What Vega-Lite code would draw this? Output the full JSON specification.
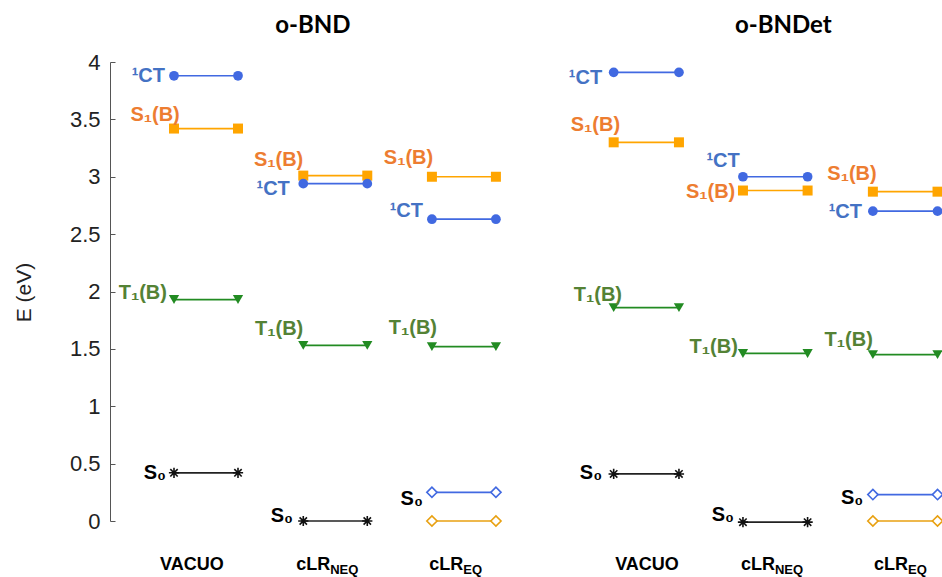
{
  "$schema": "https://vega.github.io/schema/vega-lite/v6.json",
  "width": 832,
  "height": 459,
  "autosize": "none",
  "padding": {"left": 110, "top": 62, "right": 0, "bottom": 56},
  "background": "white",
  "config": {"view": {"stroke": null}},
  "datasets": {
    "levels": [
      {"panel": "o-BND", "env": "VACUO", "series": "CT", "E": 3.88, "x0": 1.0, "x1": 2.0},
      {"panel": "o-BND", "env": "VACUO", "series": "S1", "E": 3.42, "x0": 1.0, "x1": 2.0},
      {"panel": "o-BND", "env": "VACUO", "series": "T1", "E": 1.93, "x0": 1.0, "x1": 2.0},
      {"panel": "o-BND", "env": "VACUO", "series": "S0", "E": 0.42, "x0": 1.0, "x1": 2.0},
      {"panel": "o-BND", "env": "cLR_NEQ", "series": "S1", "E": 3.01, "x0": 3.02, "x1": 4.02},
      {"panel": "o-BND", "env": "cLR_NEQ", "series": "CT", "E": 2.94, "x0": 3.02, "x1": 4.02},
      {"panel": "o-BND", "env": "cLR_NEQ", "series": "T1", "E": 1.53, "x0": 3.02, "x1": 4.02},
      {"panel": "o-BND", "env": "cLR_NEQ", "series": "S0", "E": 0.0, "x0": 3.02, "x1": 4.02},
      {"panel": "o-BND", "env": "cLR_EQ", "series": "S1", "E": 3.0, "x0": 5.03, "x1": 6.03},
      {"panel": "o-BND", "env": "cLR_EQ", "series": "CT", "E": 2.63, "x0": 5.03, "x1": 6.03},
      {"panel": "o-BND", "env": "cLR_EQ", "series": "T1", "E": 1.52, "x0": 5.03, "x1": 6.03},
      {"panel": "o-BND", "env": "cLR_EQ", "series": "S0b", "E": 0.25, "x0": 5.03, "x1": 6.03},
      {"panel": "o-BND", "env": "cLR_EQ", "series": "S0o", "E": 0.0, "x0": 5.03, "x1": 6.03},
      {"panel": "o-BNDet", "env": "VACUO", "series": "CT", "E": 3.91, "x0": 7.87, "x1": 8.89},
      {"panel": "o-BNDet", "env": "VACUO", "series": "S1", "E": 3.3, "x0": 7.87, "x1": 8.89},
      {"panel": "o-BNDet", "env": "VACUO", "series": "T1", "E": 1.86, "x0": 7.87, "x1": 8.89},
      {"panel": "o-BNDet", "env": "VACUO", "series": "S0", "E": 0.41, "x0": 7.87, "x1": 8.89},
      {"panel": "o-BNDet", "env": "cLR_NEQ", "series": "CT", "E": 3.0, "x0": 9.89, "x1": 10.9},
      {"panel": "o-BNDet", "env": "cLR_NEQ", "series": "S1", "E": 2.88, "x0": 9.89, "x1": 10.9},
      {"panel": "o-BNDet", "env": "cLR_NEQ", "series": "T1", "E": 1.46, "x0": 9.89, "x1": 10.9},
      {"panel": "o-BNDet", "env": "cLR_NEQ", "series": "S0", "E": -0.01, "x0": 9.89, "x1": 10.9},
      {"panel": "o-BNDet", "env": "cLR_EQ", "series": "S1", "E": 2.87, "x0": 11.92, "x1": 12.93},
      {"panel": "o-BNDet", "env": "cLR_EQ", "series": "CT", "E": 2.7, "x0": 11.92, "x1": 12.93},
      {"panel": "o-BNDet", "env": "cLR_EQ", "series": "T1", "E": 1.45, "x0": 11.92, "x1": 12.93},
      {"panel": "o-BNDet", "env": "cLR_EQ", "series": "S0b", "E": 0.23, "x0": 11.92, "x1": 12.93},
      {"panel": "o-BNDet", "env": "cLR_EQ", "series": "S0o", "E": 0.0, "x0": 11.92, "x1": 12.93}
    ],
    "labels": [
      {"text": "¹CT", "kind": "CT", "x": 0.86, "y": 3.88},
      {"text": "S₁(B)", "kind": "S1", "x": 1.09, "y": 3.54},
      {"text": "T₁(B)", "kind": "T1", "x": 0.89, "y": 1.99},
      {"text": "S₀", "kind": "S0", "x": 0.875, "y": 0.42},
      {"text": "S₁(B)", "kind": "S1", "x": 3.02, "y": 3.15},
      {"text": "¹CT", "kind": "CT", "x": 2.81, "y": 2.89},
      {"text": "T₁(B)", "kind": "T1", "x": 3.02, "y": 1.67},
      {"text": "S₀", "kind": "S0", "x": 2.86, "y": 0.04},
      {"text": "S₁(B)", "kind": "S1", "x": 5.05, "y": 3.16},
      {"text": "¹CT", "kind": "CT", "x": 4.89, "y": 2.7},
      {"text": "T₁(B)", "kind": "T1", "x": 5.11, "y": 1.68},
      {"text": "S₀", "kind": "S0", "x": 4.89, "y": 0.19},
      {"text": "¹CT", "kind": "CT", "x": 7.69, "y": 3.86},
      {"text": "S₁(B)", "kind": "S1", "x": 7.97, "y": 3.45},
      {"text": "T₁(B)", "kind": "T1", "x": 8.0, "y": 1.97},
      {"text": "S₀", "kind": "S0", "x": 7.69, "y": 0.42},
      {"text": "¹CT", "kind": "CT", "x": 9.84, "y": 3.14},
      {"text": "S₁(B)", "kind": "S1", "x": 9.77, "y": 2.87},
      {"text": "T₁(B)", "kind": "T1", "x": 9.81, "y": 1.52},
      {"text": "S₀", "kind": "S0", "x": 9.75, "y": 0.05},
      {"text": "S₁(B)", "kind": "S1", "x": 11.98, "y": 3.02},
      {"text": "¹CT", "kind": "CT", "x": 11.75, "y": 2.69},
      {"text": "T₁(B)", "kind": "T1", "x": 11.92, "y": 1.58},
      {"text": "S₀", "kind": "S0", "x": 11.77, "y": 0.2}
    ],
    "categories": [
      {"text": "VACUO", "role": "center", "x": 1.28, "y": -0.38},
      {"text": "cLR", "role": "main", "x": 3.44, "y": -0.38},
      {"text": "NEQ", "role": "sub", "x": 3.44, "y": -0.38},
      {"text": "cLR", "role": "main", "x": 5.52, "y": -0.38},
      {"text": "EQ", "role": "sub", "x": 5.52, "y": -0.38},
      {"text": "VACUO", "role": "center", "x": 8.39, "y": -0.38},
      {"text": "cLR", "role": "main", "x": 10.39, "y": -0.38},
      {"text": "NEQ", "role": "sub", "x": 10.39, "y": -0.38},
      {"text": "cLR", "role": "main", "x": 12.47, "y": -0.38},
      {"text": "EQ", "role": "sub", "x": 12.47, "y": -0.38}
    ],
    "titles": [
      {"text": "o-BND", "x": 3.17, "y": 4.31},
      {"text": "o-BNDet", "x": 10.52, "y": 4.31}
    ]
  },
  "layer": [
    {
      "data": {"name": "levels"},
      "mark": {"type": "rule", "strokeWidth": 1.7},
      "encoding": {
        "x": {"field": "x0", "type": "quantitative", "scale": {"domain": [0, 13], "nice": false, "zero": false}, "axis": null},
        "x2": {"field": "x1"},
        "y": {
          "field": "E", "type": "quantitative",
          "scale": {"domain": [0, 4], "nice": false, "zero": false},
          "axis": {
            "title": "E (eV)",
            "values": [0, 0.25, 0.5, 0.75, 1, 1.25, 1.5, 1.75, 2, 2.25, 2.5, 2.75, 3, 3.25, 3.5, 3.75, 4],
            "format": "~g",
            "labelExpr": "datum.value % 0.5 === 0 ? datum.label : ''",
            "grid": false,
            "domainColor": "#555555",
            "tickColor": "#555555",
            "tickSize": -5,
            "labelPadding": 15,
            "labelFont": "Liberation Sans",
            "labelFontSize": 22,
            "labelColor": "#222222",
            "titleFont": "Liberation Sans",
            "titleFontSize": 21,
            "titleFontWeight": "normal",
            "titleColor": "#222222",
            "titleX": -86,
            "titleY": 230,
            "titleAngle": -90,
            "titleAlign": "center",
            "titleBaseline": "middle"
          }
        },
        "color": {
          "field": "series", "type": "nominal", "legend": null,
          "scale": {"domain": ["CT", "S1", "T1", "S0", "S0b", "S0o"], "range": ["#4169E1", "#FFA500", "#228B22", "#222222", "#4169E1", "#E8A010"]}
        }
      }
    },
    {
      "data": {"name": "levels"},
      "transform": [
        {"filter": "datum.series === 'CT' || datum.series === 'S1' || datum.series === 'T1'"},
        {"fold": ["x0", "x1"], "as": ["end", "xe"]}
      ],
      "mark": {"type": "point", "filled": true, "opacity": 1},
      "encoding": {
        "x": {"field": "xe", "type": "quantitative"},
        "y": {"field": "E", "type": "quantitative"},
        "shape": {
          "field": "series", "type": "nominal", "legend": null,
          "scale": {"domain": ["CT", "S1", "T1"], "range": ["circle", "square", "triangle-down"]}
        },
        "size": {
          "field": "series", "type": "nominal", "legend": null,
          "scale": {"domain": ["CT", "S1", "T1"], "range": [95, 105, 145]}
        },
        "color": {"field": "series", "type": "nominal", "legend": null}
      }
    },
    {
      "data": {"name": "levels"},
      "transform": [
        {"filter": "datum.series === 'S0' || datum.series === 'S0b' || datum.series === 'S0o'"},
        {"fold": ["x0", "x1"], "as": ["end", "xe"]}
      ],
      "mark": {"type": "point", "filled": false, "fill": "white", "fillOpacity": 1, "opacity": 1, "strokeWidth": 1.6, "size": 105},
      "encoding": {
        "x": {"field": "xe", "type": "quantitative"},
        "y": {"field": "E", "type": "quantitative"},
        "shape": {
          "field": "series", "type": "nominal", "legend": null,
          "scale": {"domain": ["S0", "S0b", "S0o"], "range": ["M-1,0L1,0M0,-1L0,1M-0.72,-0.72L0.72,0.72M-0.72,0.72L0.72,-0.72", "diamond", "diamond"]}
        },
        "stroke": {
          "field": "series", "type": "nominal", "legend": null,
          "scale": {"domain": ["S0", "S0b", "S0o"], "range": ["#111111", "#4169E1", "#E8A010"]}
        }
      }
    },
    {
      "data": {"name": "labels"},
      "mark": {"type": "text", "align": "right", "baseline": "middle", "font": "Liberation Sans", "fontWeight": "bold", "fontSize": 20},
      "encoding": {
        "x": {"field": "x", "type": "quantitative"},
        "y": {"field": "y", "type": "quantitative"},
        "text": {"field": "text"},
        "fill": {
          "field": "kind", "type": "nominal", "legend": null,
          "scale": {"domain": ["CT", "S1", "T1", "S0"], "range": ["#4472C4", "#ED7D31", "#548235", "#000000"]}
        }
      }
    },
    {
      "data": {"name": "categories"},
      "transform": [{"filter": "datum.role === 'center'"}],
      "mark": {"type": "text", "align": "center", "baseline": "middle", "font": "Liberation Sans", "fontWeight": "bold", "fontSize": 18, "color": "#000000"},
      "encoding": {
        "x": {"field": "x", "type": "quantitative"},
        "y": {"field": "y", "type": "quantitative"},
        "text": {"field": "text"}
      }
    },
    {
      "data": {"name": "categories"},
      "transform": [{"filter": "datum.role === 'main'"}],
      "mark": {"type": "text", "align": "right", "baseline": "middle", "font": "Liberation Sans", "fontWeight": "bold", "fontSize": 18, "color": "#000000"},
      "encoding": {
        "x": {"field": "x", "type": "quantitative"},
        "y": {"field": "y", "type": "quantitative"},
        "text": {"field": "text"}
      }
    },
    {
      "data": {"name": "categories"},
      "transform": [{"filter": "datum.role === 'sub'"}],
      "mark": {"type": "text", "align": "left", "baseline": "middle", "dy": 5, "font": "Liberation Sans", "fontWeight": "bold", "fontSize": 13, "color": "#000000"},
      "encoding": {
        "x": {"field": "x", "type": "quantitative"},
        "y": {"field": "y", "type": "quantitative"},
        "text": {"field": "text"}
      }
    },
    {
      "data": {"name": "titles"},
      "mark": {"type": "text", "align": "center", "baseline": "middle", "font": "Lato", "fontWeight": "bold", "fontSize": 24, "color": "#000000"},
      "encoding": {
        "x": {"field": "x", "type": "quantitative"},
        "y": {"field": "y", "type": "quantitative"},
        "text": {"field": "text"}
      }
    }
  ],
  "resolve": {"scale": {"shape": "independent", "size": "independent"}}
}
